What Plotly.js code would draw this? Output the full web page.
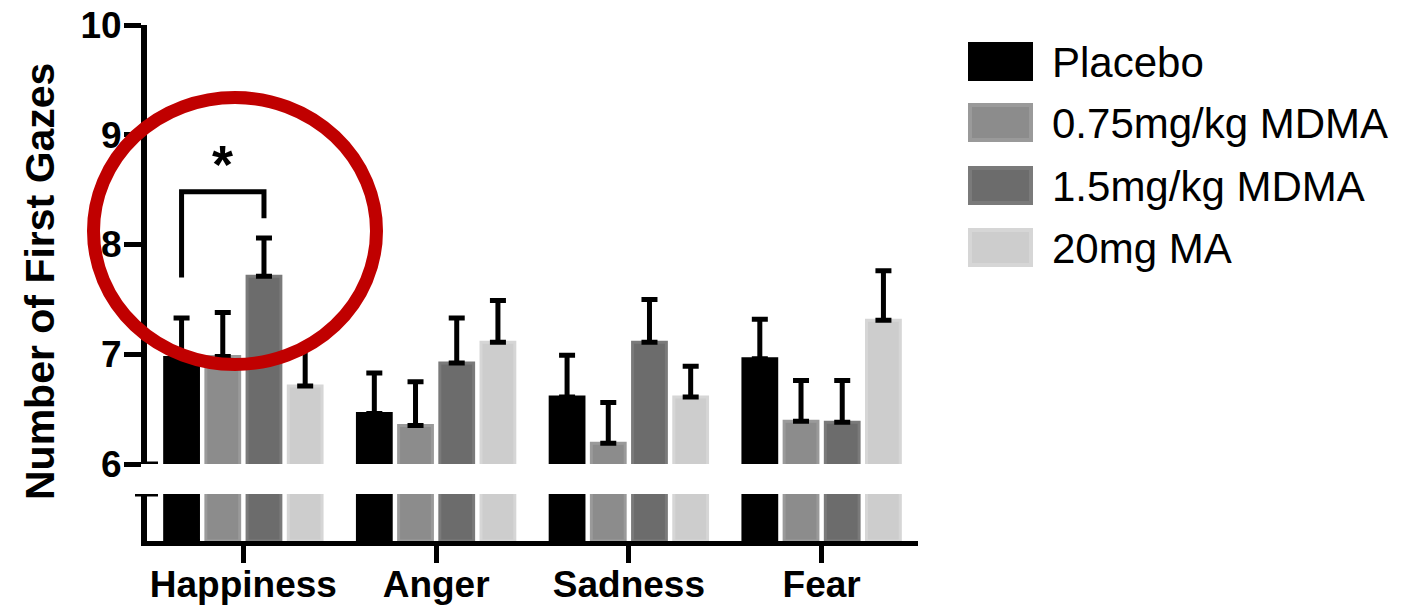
<!DOCTYPE html>
<html>
<head>
<meta charset="utf-8">
<script src="https://cdn.plot.ly/plotly-3.0.1.min.js"></script>
<style>
  html, body { margin: 0; padding: 0; background: #ffffff; }
  #chart { width: 1420px; height: 609px; }
</style>
</head>
<body>
<div id="chart"></div>
<script>
// Emotion categories on the x axis
const categories = ['Happiness', 'Anger', 'Sadness', 'Fear'];

// Treatment groups
const seriesNames = ['Placebo', '0.75mg/kg MDMA', '1.5mg/kg MDMA', '20mg MA'];

// Mean number of first gazes per group, and upper error (SEM)
const placebo      = [6.97, 6.46, 6.61, 6.96];
const placeboErr   = [0.36, 0.37, 0.38, 0.36];
const mdmaLow      = [6.98, 6.35, 6.19, 6.39];
const mdmaLowErr   = [0.40, 0.40, 0.37, 0.37];
const mdmaHigh     = [7.71, 6.92, 7.11, 6.38];
const mdmaHighErr  = [0.35, 0.41, 0.39, 0.38];
const ma           = [6.71, 7.11, 6.61, 7.31];
const maErr        = [0.36, 0.38, 0.28, 0.45];

// Y ticks of the upper (broken) segment
const yTicks = [6, 7, 8, 9, 10];

// Significance bracket: Placebo vs 1.5mg/kg MDMA for Happiness
const sigTop = 8.48;
const sigLeftEnd = 7.70;
const sigRightEnd = 8.24;

const seriesValues = [placebo, mdmaLow, mdmaHigh, ma];
const seriesErrors = [placeboErr, mdmaLowErr, mdmaHighErr, maErr];
const fillColors = ['#000000', '#8c8c8c', '#6c6c6c', '#cdcdcd'];
const edgeColors = ['#000000', '#9a9a9a', '#7a7a7a', '#d6d6d6'];

// Plot area geometry (pixels)
const W = 1420, H = 609;
const L = 147, R = 502, T = 25, B = 68;
const plotW = W - L - R, plotH = H - T - B;
const px2x = px => (px - L) / plotW;
const py2y = py => (H - B - py) / plotH;

const FONT = 'Liberation Sans, Arial, Helvetica, sans-serif';

const bargap = 0.145;
const bargroupgap = 0.18;

const traces = [];
seriesNames.forEach((name, i) => {
  // upper segment, with error bars
  traces.push({
    type: 'bar', name: name, x: categories, y: seriesValues[i],
    xaxis: 'x', yaxis: 'y', showlegend: false,
    marker: { color: fillColors[i], line: { color: edgeColors[i], width: 3 } },
    error_y: {
      type: 'data', symmetric: false, array: seriesErrors[i],
      arrayminus: seriesErrors[i].map(() => 0),
      color: '#000000', thickness: 5, width: 8
    },
    hoverinfo: 'skip'
  });
});
seriesNames.forEach((name, i) => {
  // lower segment below the axis break
  traces.push({
    type: 'bar', name: name, x: categories, y: seriesValues[i],
    xaxis: 'x', yaxis: 'y2', showlegend: false,
    marker: { color: fillColors[i], line: { color: edgeColors[i], width: 3 } },
    hoverinfo: 'skip'
  });
});

// Bracket x positions follow the grouped-bar slots
const slot = (1 - bargap) / seriesNames.length;
const slotCenter = (cat, k) => cat + (k - (seriesNames.length - 1) / 2) * slot;
const bx0 = slotCenter(0, 0), bx1 = slotCenter(0, 2);

const shapes = [
  // cap of the upper segment at 6
  { type: 'line', xref: 'paper', yref: 'y', x0: px2x(146), x1: px2x(158), y0: 6, y1: 6,
    line: { color: '#000', width: 5 } },
  // cap of the lower segment
  { type: 'line', xref: 'paper', yref: 'y2', x0: px2x(135), x1: px2x(158), y0: 1, y1: 1,
    line: { color: '#000', width: 5 } },
  // significance bracket
  { type: 'path', xref: 'x', yref: 'y',
    path: `M ${bx0},${sigLeftEnd} L ${bx0},${sigTop} L ${bx1},${sigTop} L ${bx1},${sigRightEnd}`,
    line: { color: '#000', width: 5 } },
  // highlight ring
  { type: 'circle', xref: 'paper', yref: 'paper',
    x0: px2x(93.5), x1: px2x(376.5), y0: py2y(364.5), y1: py2y(97.5),
    line: { color: '#c00000', width: 13 }, layer: 'above' }
];

const annotations = [
  { xref: 'paper', yref: 'paper', x: px2x(40), y: py2y(282), text: 'Number of First Gazes',
    textangle: -90, showarrow: false, xanchor: 'center', yanchor: 'middle',
    font: { family: FONT, size: 41, color: '#000', weight: 'bold' } },
  { xref: 'x', yref: 'y', x: (bx0 + bx1) / 2, y: sigTop, yshift: -4, text: '*',
    showarrow: false, xanchor: 'center', yanchor: 'bottom',
    font: { family: FONT, size: 54, color: '#000', weight: 'bold' } }
];

// Legend drawn with large swatches
const legendRowTop = [42, 103, 166, 228];
seriesNames.forEach((name, i) => {
  const top = legendRowTop[i];
  shapes.push({
    type: 'rect', xref: 'paper', yref: 'paper',
    x0: px2x(970), x1: px2x(1031), y0: py2y(top + 37), y1: py2y(top + 2),
    fillcolor: fillColors[i], line: { color: edgeColors[i], width: 4 }
  });
  annotations.push({
    xref: 'paper', yref: 'paper', x: px2x(1050), y: py2y(top + 20),
    xanchor: 'left', yanchor: 'middle', text: name, showarrow: false,
    font: { family: FONT, size: 42, color: '#000' }
  });
});

const layout = {
  width: W, height: H,
  margin: { l: L, r: R, t: T, b: B, pad: 0 },
  paper_bgcolor: '#ffffff', plot_bgcolor: '#ffffff',
  barmode: 'group', bargap: bargap, bargroupgap: bargroupgap,
  showlegend: false,
  xaxis: {
    anchor: 'y2', range: [-0.5, 3.5], showgrid: false, zeroline: false,
    showline: true, linecolor: '#000', linewidth: 5,
    ticks: 'outside', ticklen: 17, tickwidth: 5, tickcolor: '#000',
    ticklabelstandoff: -10,
    tickfont: { family: FONT, size: 37, color: '#000', weight: 'bold' }
  },
  yaxis: {
    domain: [py2y(464), 1], range: [6, 10], tickvals: yTicks,
    showgrid: false, zeroline: false,
    showline: true, linecolor: '#000', linewidth: 6,
    ticks: 'outside', ticklen: 17, tickwidth: 5, tickcolor: '#000',
    ticklabelstandoff: -5,
    tickfont: { family: FONT, size: 37, color: '#000', weight: 'bold' }
  },
  yaxis2: {
    domain: [0, py2y(494)], range: [0, 1],
    showgrid: false, zeroline: false, showticklabels: false, ticks: '',
    showline: true, linecolor: '#000', linewidth: 6
  },
  shapes: shapes,
  annotations: annotations
};

Plotly.newPlot('chart', traces, layout, { displayModeBar: false, staticPlot: true });
</script>
</body>
</html>
